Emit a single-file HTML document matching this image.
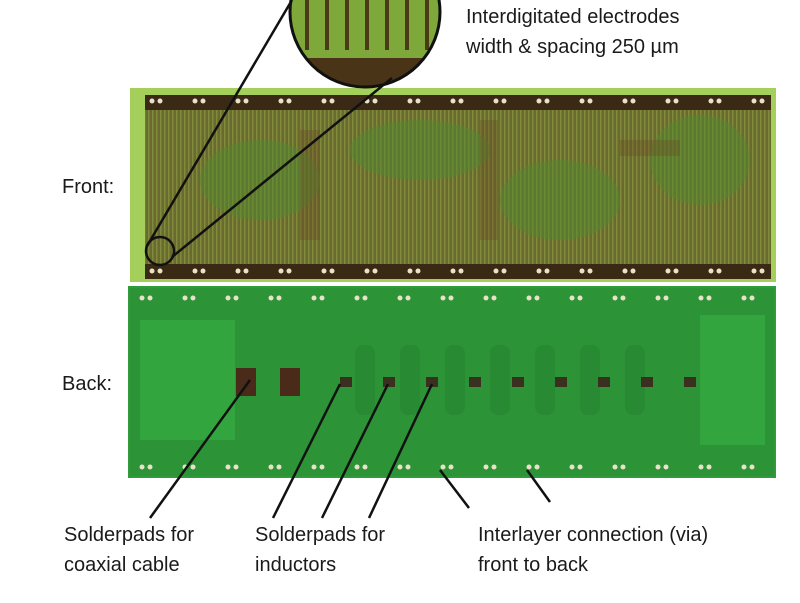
<!DOCTYPE html>
<html><head><style>
body{margin:0;width:800px;height:598px;overflow:hidden;background:#fff;}
svg text{font-family:"Liberation Sans",sans-serif;fill:#1a1a1a;}
</style></head><body>
<svg width="800" height="598" viewBox="0 0 800 598" xmlns="http://www.w3.org/2000/svg">
<defs>
<pattern id="vl" width="4" height="10" patternUnits="userSpaceOnUse">
<rect width="4" height="10" fill="#6a6a30"/><rect width="1.5" height="10" fill="#7f8a3a"/>
</pattern>
<clipPath id="cc"><circle cx="365" cy="12" r="75"/></clipPath>
</defs>
<!-- front board -->
<rect x="130" y="88" width="646" height="194" fill="#a4cf5a"/>
<rect x="145" y="95" width="626" height="184" fill="#3a2a15"/>
<rect x="145" y="110" width="626" height="154" fill="url(#vl)"/>
<g fill="#4f8a30" opacity="0.45">
<ellipse cx="260" cy="180" rx="60" ry="40"/><ellipse cx="420" cy="150" rx="70" ry="30"/>
<ellipse cx="560" cy="200" rx="60" ry="40"/><ellipse cx="700" cy="160" rx="50" ry="45"/>
</g>
<g fill="#6b4a25" opacity="0.35">
<rect x="300" y="130" width="20" height="110"/><rect x="480" y="120" width="18" height="120"/><rect x="620" y="140" width="60" height="16"/>
</g>
<g fill="#e8e0c8">
<script>/* none */</script>
</g>
<g id="fp" fill="#e6dcc0"></g>
<!-- back board -->
<rect x="128" y="286" width="648" height="192" fill="#2f9b3a"/>
<rect x="130" y="288" width="644" height="188" fill="#2c9437"/>
<rect x="140" y="320" width="95" height="120" fill="#33a53f"/>
<rect x="700" y="315" width="65" height="130" fill="#33a53f"/>
<g fill="#288a33">
<rect x="355" y="345" width="20" height="70" rx="8"/><rect x="400" y="345" width="20" height="70" rx="8"/><rect x="445" y="345" width="20" height="70" rx="8"/><rect x="490" y="345" width="20" height="70" rx="8"/><rect x="535" y="345" width="20" height="70" rx="8"/><rect x="580" y="345" width="20" height="70" rx="8"/><rect x="625" y="345" width="20" height="70" rx="8"/>
</g>
<rect x="236" y="368" width="20" height="28" fill="#4a2a18"/>
<rect x="280" y="368" width="20" height="28" fill="#4a2a18"/>
<g fill="#3a3020">
<rect x="340" y="377" width="12" height="10"/><rect x="383" y="377" width="12" height="10"/><rect x="426" y="377" width="12" height="10"/><rect x="469" y="377" width="12" height="10"/><rect x="512" y="377" width="12" height="10"/><rect x="555" y="377" width="12" height="10"/><rect x="598" y="377" width="12" height="10"/><rect x="641" y="377" width="12" height="10"/><rect x="684" y="377" width="12" height="10"/>
</g>
<g fill="#e6dcc0">
<g id="pads"></g>
</g>
<!-- pads drawn explicitly -->
<g fill="#e9e2c9">
<circle cx="152" cy="101" r="2.5"/><circle cx="160" cy="101" r="2.5"/><circle cx="195" cy="101" r="2.5"/><circle cx="203" cy="101" r="2.5"/><circle cx="238" cy="101" r="2.5"/><circle cx="246" cy="101" r="2.5"/><circle cx="281" cy="101" r="2.5"/><circle cx="289" cy="101" r="2.5"/><circle cx="324" cy="101" r="2.5"/><circle cx="332" cy="101" r="2.5"/><circle cx="367" cy="101" r="2.5"/><circle cx="375" cy="101" r="2.5"/><circle cx="410" cy="101" r="2.5"/><circle cx="418" cy="101" r="2.5"/><circle cx="453" cy="101" r="2.5"/><circle cx="461" cy="101" r="2.5"/><circle cx="496" cy="101" r="2.5"/><circle cx="504" cy="101" r="2.5"/><circle cx="539" cy="101" r="2.5"/><circle cx="547" cy="101" r="2.5"/><circle cx="582" cy="101" r="2.5"/><circle cx="590" cy="101" r="2.5"/><circle cx="625" cy="101" r="2.5"/><circle cx="633" cy="101" r="2.5"/><circle cx="668" cy="101" r="2.5"/><circle cx="676" cy="101" r="2.5"/><circle cx="711" cy="101" r="2.5"/><circle cx="719" cy="101" r="2.5"/><circle cx="754" cy="101" r="2.5"/><circle cx="762" cy="101" r="2.5"/>
</g>
<g fill="#e9e2c9" transform="translate(0,170)">
<circle cx="152" cy="101" r="2.5"/><circle cx="160" cy="101" r="2.5"/><circle cx="195" cy="101" r="2.5"/><circle cx="203" cy="101" r="2.5"/><circle cx="238" cy="101" r="2.5"/><circle cx="246" cy="101" r="2.5"/><circle cx="281" cy="101" r="2.5"/><circle cx="289" cy="101" r="2.5"/><circle cx="324" cy="101" r="2.5"/><circle cx="332" cy="101" r="2.5"/><circle cx="367" cy="101" r="2.5"/><circle cx="375" cy="101" r="2.5"/><circle cx="410" cy="101" r="2.5"/><circle cx="418" cy="101" r="2.5"/><circle cx="453" cy="101" r="2.5"/><circle cx="461" cy="101" r="2.5"/><circle cx="496" cy="101" r="2.5"/><circle cx="504" cy="101" r="2.5"/><circle cx="539" cy="101" r="2.5"/><circle cx="547" cy="101" r="2.5"/><circle cx="582" cy="101" r="2.5"/><circle cx="590" cy="101" r="2.5"/><circle cx="625" cy="101" r="2.5"/><circle cx="633" cy="101" r="2.5"/><circle cx="668" cy="101" r="2.5"/><circle cx="676" cy="101" r="2.5"/><circle cx="711" cy="101" r="2.5"/><circle cx="719" cy="101" r="2.5"/><circle cx="754" cy="101" r="2.5"/><circle cx="762" cy="101" r="2.5"/>
</g>
<g fill="#e9e2c9" transform="translate(-10,197)">
<circle cx="152" cy="101" r="2.5"/><circle cx="160" cy="101" r="2.5"/><circle cx="195" cy="101" r="2.5"/><circle cx="203" cy="101" r="2.5"/><circle cx="238" cy="101" r="2.5"/><circle cx="246" cy="101" r="2.5"/><circle cx="281" cy="101" r="2.5"/><circle cx="289" cy="101" r="2.5"/><circle cx="324" cy="101" r="2.5"/><circle cx="332" cy="101" r="2.5"/><circle cx="367" cy="101" r="2.5"/><circle cx="375" cy="101" r="2.5"/><circle cx="410" cy="101" r="2.5"/><circle cx="418" cy="101" r="2.5"/><circle cx="453" cy="101" r="2.5"/><circle cx="461" cy="101" r="2.5"/><circle cx="496" cy="101" r="2.5"/><circle cx="504" cy="101" r="2.5"/><circle cx="539" cy="101" r="2.5"/><circle cx="547" cy="101" r="2.5"/><circle cx="582" cy="101" r="2.5"/><circle cx="590" cy="101" r="2.5"/><circle cx="625" cy="101" r="2.5"/><circle cx="633" cy="101" r="2.5"/><circle cx="668" cy="101" r="2.5"/><circle cx="676" cy="101" r="2.5"/><circle cx="711" cy="101" r="2.5"/><circle cx="719" cy="101" r="2.5"/><circle cx="754" cy="101" r="2.5"/><circle cx="762" cy="101" r="2.5"/>
</g>
<g fill="#e9e2c9" transform="translate(-10,366)">
<circle cx="152" cy="101" r="2.5"/><circle cx="160" cy="101" r="2.5"/><circle cx="195" cy="101" r="2.5"/><circle cx="203" cy="101" r="2.5"/><circle cx="238" cy="101" r="2.5"/><circle cx="246" cy="101" r="2.5"/><circle cx="281" cy="101" r="2.5"/><circle cx="289" cy="101" r="2.5"/><circle cx="324" cy="101" r="2.5"/><circle cx="332" cy="101" r="2.5"/><circle cx="367" cy="101" r="2.5"/><circle cx="375" cy="101" r="2.5"/><circle cx="410" cy="101" r="2.5"/><circle cx="418" cy="101" r="2.5"/><circle cx="453" cy="101" r="2.5"/><circle cx="461" cy="101" r="2.5"/><circle cx="496" cy="101" r="2.5"/><circle cx="504" cy="101" r="2.5"/><circle cx="539" cy="101" r="2.5"/><circle cx="547" cy="101" r="2.5"/><circle cx="582" cy="101" r="2.5"/><circle cx="590" cy="101" r="2.5"/><circle cx="625" cy="101" r="2.5"/><circle cx="633" cy="101" r="2.5"/><circle cx="668" cy="101" r="2.5"/><circle cx="676" cy="101" r="2.5"/><circle cx="711" cy="101" r="2.5"/><circle cx="719" cy="101" r="2.5"/><circle cx="754" cy="101" r="2.5"/><circle cx="762" cy="101" r="2.5"/>
</g>
<!-- magnifier -->
<g clip-path="url(#cc)">
<rect x="280" y="-70" width="170" height="160" fill="#7fa83a"/>
<g fill="#4a3a15">
<rect x="305" y="-70" width="4" height="120"/><rect x="325" y="-70" width="4" height="120"/><rect x="345" y="-70" width="4" height="120"/><rect x="365" y="-70" width="4" height="120"/><rect x="385" y="-70" width="4" height="120"/><rect x="405" y="-70" width="4" height="120"/><rect x="425" y="-70" width="4" height="120"/>
</g>
<rect x="280" y="58" width="170" height="40" fill="#4a3418"/>
</g>
<circle cx="365" cy="12" r="75" fill="none" stroke="#111" stroke-width="3"/>
<circle cx="160" cy="251" r="14" fill="none" stroke="#111" stroke-width="2.5"/>
<g stroke="#111" stroke-width="2.5" fill="none">
<line x1="147" y1="246" x2="292" y2="0"/>
<line x1="172" y1="257" x2="392" y2="78"/>
<line x1="250" y1="380" x2="150" y2="518"/>
<line x1="340" y1="384" x2="273" y2="518"/>
<line x1="388" y1="384" x2="322" y2="518"/>
<line x1="432" y1="384" x2="369" y2="518"/>
<line x1="440" y1="470" x2="469" y2="508"/>
<line x1="527" y1="470" x2="550" y2="502"/>
</g>
<g font-size="20">
<text x="466" y="23">Interdigitated electrodes</text>
<text x="466" y="53">width &amp; spacing 250 µm</text>
<text x="62" y="193">Front:</text>
<text x="62" y="390">Back:</text>
<text x="64" y="541">Solderpads for</text>
<text x="64" y="571">coaxial cable</text>
<text x="255" y="541">Solderpads for</text>
<text x="255" y="571">inductors</text>
<text x="478" y="541">Interlayer connection (via)</text>
<text x="478" y="571">front to back</text>
</g>
</svg>
</body></html>
